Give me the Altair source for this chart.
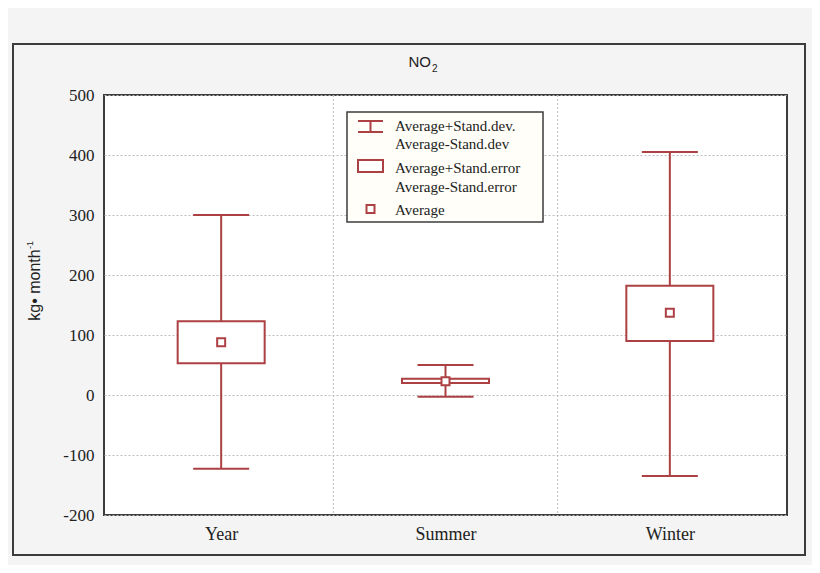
import json
import altair as alt
import pandas as pd

# ---- data ----
categories = ["Year", "Summer", "Winter"]
mean_vals = [88, 23, 137]
se_low = [53, 20, 90]
se_high = [123, 27, 182]
sd_low = [-123, -3, -135]
sd_high = [300, 50, 405]
y_ticks = [-200, -100, 0, 100, 200, 300, 400, 500]

RED = "#ad4043"
FRAME = "#3c3c3c"
GRID = "#bdbdbd"

df = pd.DataFrame({
    "pos": list(range(len(categories))),
    "cat": categories,
    "mean": mean_vals,
    "se_low": se_low,
    "se_high": se_high,
    "sd_low": sd_low,
    "sd_high": sd_high,
})
bounds = pd.DataFrame({"b": [i + 0.5 for i in range(len(categories) - 1)]})
one = pd.DataFrame({"k": [0]})

xscale = alt.Scale(domain=[-0.5, len(categories) - 0.5], nice=False, zero=False)
yscale = alt.Scale(domain=[-200, 500], nice=False, zero=False)
label_expr = json.dumps(categories) + "[datum.value]"


def X(field):
    return alt.X(field, type="quantitative", scale=xscale, title=None,
                 axis=alt.Axis(values=list(range(len(categories))), labelExpr=label_expr,
                               grid=False, ticks=False, domain=False,
                               labelFont="Liberation Serif", labelFontSize=18,
                               labelColor="#222", labelPadding=10))


def Y(field):
    return alt.Y(field, type="quantitative", scale=yscale, title=None,
                 axis=alt.Axis(values=y_ticks, grid=True, gridDash=[2, 2], gridColor=GRID,
                               gridOpacity=1, ticks=False, domain=False,
                               labelExpr="'' + datum.value",
                               labelFont="Liberation Serif", labelFontSize=17,
                               labelColor="#222", labelPadding=10))


base = alt.Chart(df)

vgrid = alt.Chart(bounds).mark_rule(color=GRID, strokeDash=[2, 2], strokeWidth=1).encode(x=X("b"))

whisker = base.mark_rule(color=RED, strokeWidth=2).encode(x=X("pos"), y=Y("sd_low"), y2="sd_high")
cap_hi = base.mark_tick(orient="horizontal", size=56, thickness=2, color=RED, opacity=1).encode(
    x=X("pos"), y=Y("sd_high"))
cap_lo = base.mark_tick(orient="horizontal", size=56, thickness=2, color=RED, opacity=1).encode(
    x=X("pos"), y=Y("sd_low"))
box = base.mark_bar(size=87, fill="white", stroke=RED, strokeWidth=2).encode(
    x=X("pos"), y=Y("se_low"), y2="se_high")
meanpt = base.mark_point(shape="square", size=64, fill="white", filled=True, stroke=RED,
                         strokeWidth=2, opacity=1).encode(x=X("pos"), y=Y("mean"))

# ---- decorations: outer frame, title, axis title, legend ----
def vrect(x1, x2, y1, y2, **kw):
    return alt.Chart(one).mark_rect(**kw).encode(
        x=alt.value(x1), x2=alt.value(x2), y=alt.value(y1), y2=alt.value(y2))


def vrule(x1, x2, y1, y2, **kw):
    return alt.Chart(one).mark_rule(**kw).encode(
        x=alt.value(x1), x2=alt.value(x2), y=alt.value(y1), y2=alt.value(y2))


def vtext(txt, x, y, **kw):
    return alt.Chart(one).mark_text(text=txt, **kw).encode(x=alt.value(x), y=alt.value(y))


outer = vrect(-91, 701, -51, 460, fill="transparent", stroke=FRAME, strokeWidth=2)
title_no = vtext("NO", 327, -28, align="right", baseline="alphabetic", font="Liberation Sans",
                 fontSize=15, color="#222")
title_2 = vtext("2", 328, -23, align="left", baseline="alphabetic", font="Liberation Sans",
                fontSize=10, color="#222")
ytitle = vtext("kg\u2022 month", -69, 190, angle=270, align="center", baseline="middle",
               font="Liberation Sans", fontSize=16, color="#222")
ytitle_sup = vtext("-1", -74, 154, angle=270, align="left", baseline="middle",
                   font="Liberation Sans", fontSize=9, color="#222")

leg_box = vrect(243, 439, 17, 127, fill="#fffef8", stroke=FRAME, strokeWidth=1.5)
leg_cap1 = vrule(254, 279, 26, 26, color=RED, strokeWidth=2)
leg_cap2 = vrule(254, 279, 37, 37, color=RED, strokeWidth=2)
leg_vert = vrule(266.5, 266.5, 26, 37, color=RED, strokeWidth=2)
leg_rect = vrect(254, 279, 65, 77, fill="white", stroke=RED, strokeWidth=2)
leg_sq = vrect(262.5, 270.5, 110, 118, fill="white", stroke=RED, strokeWidth=2)
leg_texts = [
    ("Average+Stand.dev.", 31),
    ("Average-Stand.dev", 49),
    ("Average+Stand.error", 73),
    ("Average-Stand.error", 92),
    ("Average", 115),
]
leg_text_layers = [
    vtext(t, 291, y, align="left", baseline="middle", font="Liberation Serif", fontSize=15,
          color="#222")
    for t, y in leg_texts
]

chart = alt.layer(
    vgrid, whisker, cap_hi, cap_lo, box, meanpt,
    outer, title_no, title_2, ytitle, ytitle_sup,
    leg_box, leg_cap1, leg_cap2, leg_vert, leg_rect, leg_sq, *leg_text_layers,
).properties(
    width=683, height=420,
    padding={"left": 96, "top": 87, "right": 25, "bottom": 50},
    autosize=alt.AutoSizeParams(type="none"),
    background="#f4f4f4",
).configure_view(
    fill="white", stroke=FRAME, strokeWidth=2
)

chart.save("out.html", embed_options={"renderer": "svg", "actions": False})
